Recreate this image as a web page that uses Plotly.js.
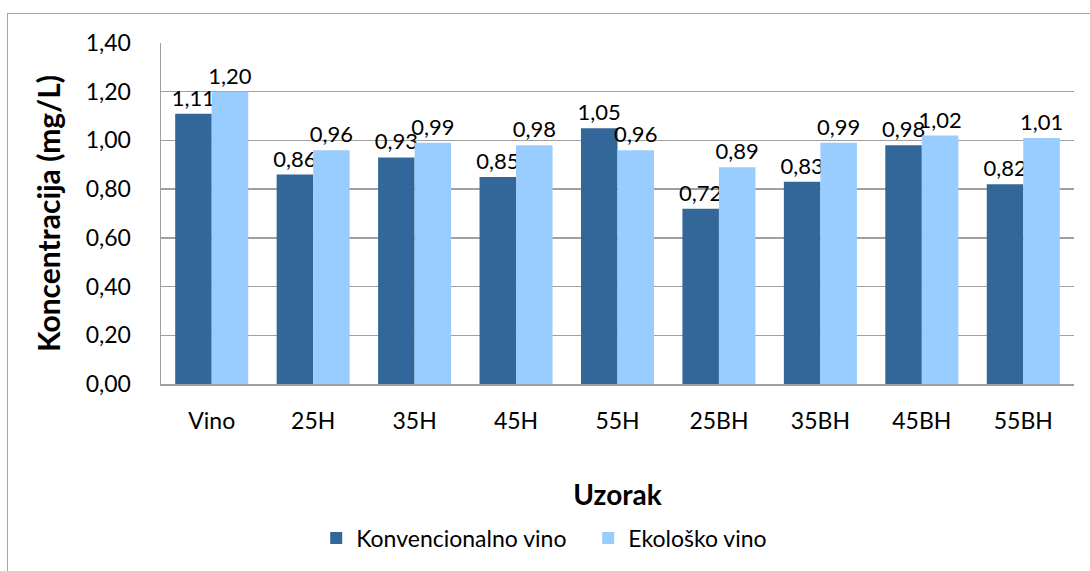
<!DOCTYPE html>
<html><head><meta charset="utf-8">
<script src="https://cdn.plot.ly/plotly-3.0.1.min.js"></script>
<style>
html,body{margin:0;padding:0;background:#fff;overflow:hidden}
#wrap{position:relative;width:1090px;height:571px}
#chart{position:absolute;left:0;top:0;width:1090px;height:571px}
#frame{position:absolute;left:7px;top:13px;width:1100px;height:600px;border:1px solid #a6a6a6;pointer-events:none}
</style></head>
<body><div id="wrap"><div id="chart"></div><div id="frame"></div></div>
<script>
var categories = ["Vino","25H","35H","45H","55H","25BH","35BH","45BH","55BH"];
var konvencionalno = [1.11,0.86,0.93,0.85,1.05,0.72,0.83,0.98,0.82];
var ekolosko = [1.20,0.96,0.99,0.98,0.96,0.89,0.99,1.02,1.01];
var seriesNames = ["Konvencionalno vino","Ekološko vino"];
var yTicks = [0,0.2,0.4,0.6,0.8,1.0,1.2,1.4];

var FONT = "Lato, 'Open Sans', sans-serif";
var FS = 23;
var common = {type:'bar', textposition:'outside', texttemplate:'%{y:.2f}', cliponaxis:false,
  constraintext:'none', textfont:{family:FONT,size:22,color:'#000'}, hoverinfo:'skip'};
var data = [
  Object.assign({}, common, {x:categories, y:konvencionalno, name:seriesNames[0], marker:{color:'#336699'}}),
  Object.assign({}, common, {x:categories, y:ekolosko, name:seriesNames[1], marker:{color:'#99CCFF'}})
];
var layout = {
  width:1090, height:571, separators:', ',
  paper_bgcolor:'rgba(0,0,0,0)', plot_bgcolor:'#fff',
  margin:{l:161,r:16,t:43,b:185,pad:0},
  font:{family:FONT,size:FS,color:'#000'},
  barmode:'group', bargap:0.28, bargroupgap:0,
  showlegend:true,
  legend:{orientation:'h', x:0.17, xanchor:'left', y:-0.452, yanchor:'middle',
    font:{family:FONT,size:FS,color:'#000'}, traceorder:'normal', entrywidth:227, itemwidth:30},
  xaxis:{type:'category', showgrid:false, showline:true, linecolor:'#a0a0a0', linewidth:1.5,
    ticks:'', ticklabelstandoff:16, tickfont:{family:FONT,size:FS},
    title:{text:'Uzorak', font:{family:FONT,size:28,weight:'bold'}, standoff:52}},
  yaxis:{range:[0,1.4], tickvals:yTicks, tickformat:'.2f', showgrid:true, gridcolor:'#a0a0a0', gridwidth:1.5,
    showline:true, linecolor:'#a0a0a0', linewidth:1.5, ticks:'', ticklabelstandoff:24, zeroline:false,
    tickfont:{family:FONT,size:FS},
    title:{text:'Koncentracija (mg/L)', font:{family:FONT,size:30,weight:'bold'}, standoff:16}}
};
Plotly.newPlot('chart', data, layout, {staticPlot:true, displayModeBar:false});
</script></body></html>
